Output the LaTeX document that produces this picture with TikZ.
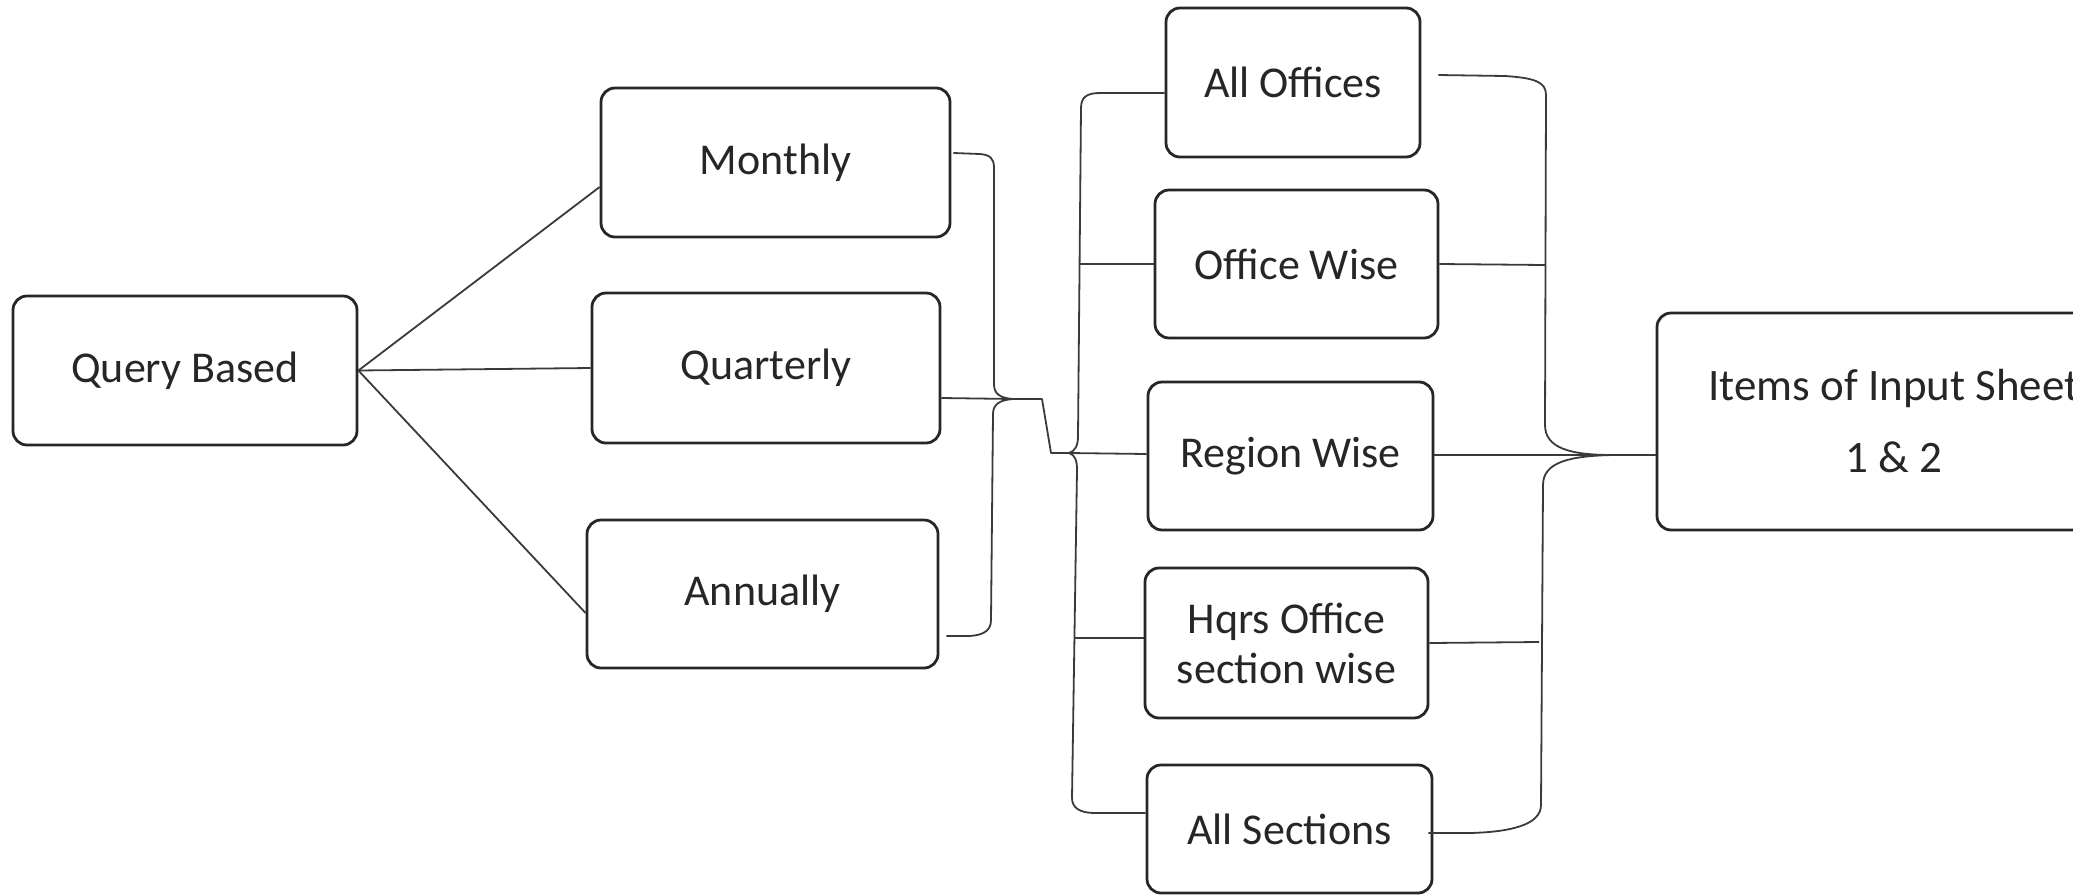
\documentclass[tikz,border=0pt]{standalone}
\usepackage{fontspec}
\setmainfont{Carlito}
\usetikzlibrary{calc}
\definecolor{ink}{HTML}{262626}
\definecolor{wire}{HTML}{3A3A3A}
\tikzset{
  box/.style={draw=ink, line width=1.4pt, rounded corners=7pt, inner sep=0pt,
    align=center, text=ink, font=\fontsize{22pt}{25pt}\selectfont},
  conn/.style={draw=wire, line width=0.9pt, line join=round},
}
\begin{document}
\begin{tikzpicture}[x=0.5pt,y=-0.5pt]
\useasboundingbox (0,0) rectangle (2073,895);
% nodes
\node[box, minimum width=172pt, minimum height=74.5pt] (qb) at (185,370.5) {Query Based};
\node[box, minimum width=174.5pt, minimum height=74.5pt] (mo) at (775.5,162.5) {Monthly};
\node[box, minimum width=174pt, minimum height=75pt] (qu) at (766,368) {Quarterly};
\node[box, minimum width=175.5pt, minimum height=74pt] (an) at (762.5,594) {Annually};
\node[box, minimum width=127pt, minimum height=74.5pt] (ao) at (1293,82.5) {All Offices};
\node[box, minimum width=141.5pt, minimum height=74pt] (ow) at (1296.5,264) {Office Wise};
\node[box, minimum width=142.5pt, minimum height=74pt] (rw) at (1290.5,456) {Region Wise};
\node[box, minimum width=141.5pt, minimum height=75pt] (hq) at (1286.5,643) {Hqrs Office\\section wise};
\node[box, minimum width=142.5pt, minimum height=64pt] (as) at (1289.5,829) {All Sections};
\node[box, minimum width=237pt, minimum height=108.5pt, font=\fontsize{22.5pt}{36pt}\selectfont] (it) at (1894,421.5) {Items of Input Sheet\\1 \& 2};
% brace tips
\coordinate (b1tip) at (1013,399);
\coordinate (b2tip) at (1069,453);
\coordinate (b3tip) at (1612,455);
\coordinate (b2ow) at (1080,264);
\coordinate (b2hq) at (1075,638);
\coordinate (b3ow) at (1545,265);
\coordinate (b3hq) at (1539,642);
\coordinate (bend1) at (1042,399);
\coordinate (bend2) at (1051,453);
% fan from Query Based
\draw[conn] (qb.east) -- ($(mo.west)+(0,24.5)$);
\draw[conn] (qb.east) -- (qu.west);
\draw[conn] (qb.east) -- ($(an.west)+(0,19)$);
% brace 1
\draw[conn] ($(mo.east)+(2,-9.5)$) -- (980,154) .. controls (990,155) and (994,158) .. (994,168)
  -- (994,384) .. controls (994,394) and (1000,398) .. (b1tip)
  .. controls (1000,400) and (993,404) .. (993,414)
  -- (991,620) .. controls (991,631) and (983,635) .. (970,636) -- ($(an.east)+(7,42)$);
% quarterly to region wise
\draw[conn] ($(qu.east)+(0,30)$) -- (b1tip) -- (bend1) -- (bend2) -- (b2tip) -- ($(rw.west)+(0,-2)$);
% brace 2
\draw[conn] ($(ao.west)+(0,10.5)$) -- (1100,93) .. controls (1087,93) and (1081,97) .. (1081,108)
  -- (1078,436) .. controls (1078,446) and (1075,451) .. (b2tip)
  .. controls (1075,455) and (1077,460) .. (1077,470)
  -- (1072,798) .. controls (1072,808) and (1080,813) .. (1095,813) -- ($(as.west)+(0,-16)$);
\draw[conn] (b2ow) -- (ow.west);
\draw[conn] (b2hq) -- ($(hq.west)+(0,-5)$);
% brace 3
\draw[conn] ($(ao.east)+(17,-7.5)$) -- (1505,76) .. controls (1535,78) and (1546,82) .. (1546,95)
  -- (1545,425) .. controls (1545,448) and (1570,455) .. (b3tip)
  .. controls (1570,456) and (1543,462) .. (1543,485)
  -- (1541,805) .. controls (1541,825) and (1510,832) .. (1470,833) -- ($(as.east)+(-5,4)$);
\draw[conn] (ow.east) -- (b3ow);
\draw[conn] (hq.east) -- (b3hq);
\draw[conn] ($(rw.east)+(0,-1)$) -- (b3tip) -- ($(it.west)+(0,33.5)$);
\end{tikzpicture}
\end{document}
